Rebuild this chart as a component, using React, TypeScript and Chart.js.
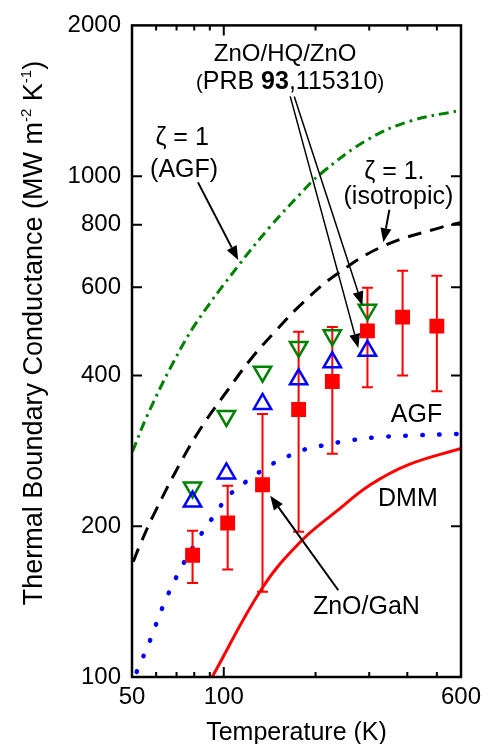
import React, { useEffect, useRef } from 'react';
import { Chart, registerables } from 'chart.js';

Chart.register(...registerables);

const FONT = '"Liberation Sans", Arial, Helvetica, sans-serif';

// ---------- data ----------
// ZnO/GaN measurements (red squares with error bars)
const ganTemps = [79, 103, 134, 176, 227, 296, 386, 500];
const ganValues = [175, 203, 242, 342, 389, 491, 523, 502];
const ganErrHigh = [196, 241, 335, 489, 500, 599, 647, 633];
const ganErrLow = [154, 164, 148, 195, 279, 379, 400, 372];

// ZnO/HQ/ZnO (PRB 93,115310)
const hqTemps = [79, 102, 134, 176, 227, 296];
const hqGreenValues = [239, 332, 407, 456, 481, 541];
const hqBlueValues = [224, 255, 351, 393, 425, 448];

// zeta = 1 (AGF) curve
const zetaAgfT = [50.2, 55.9, 68.2, 81.5, 111.5, 142, 178, 207, 296, 409, 600];
const zetaAgfG = [282, 331, 424, 511, 662, 793, 921, 1009, 1182, 1288, 1354];

// zeta = 1 (isotropic) curve
const isoT = [50.5, 53.1, 58.7, 71.9, 84.7, 102.4, 123.7, 149.4, 182.3, 235.2, 333.7, 525.8, 600];
const isoG = [170, 183.5, 210, 267, 316, 372, 434, 494, 560, 638, 725, 793, 808];

// AGF curve
const agfT = [51.8, 57.3, 62.9, 70.1, 80.5, 94.6, 103.6, 117.5, 133.4, 149.4, 169.4, 189.7, 215.3, 244.2, 310.3, 394.3, 600];
const agfG = [102.4, 118.3, 137.5, 158.8, 184.6, 213.2, 229.9, 244.7, 258.6, 269.4, 278.9, 286.2, 290.5, 295.0, 300.8, 303.1, 306];

// DMM curve
const dmmT = [91.6, 133.6, 178.2, 234, 302.6, 400.4, 600];
const dmmG = [100, 150.4, 186, 214.1, 241.9, 264.9, 286];

// axes
const xMin = 50;
const xMax = 600;
const yMin = 100;
const yMax = 2000;
const xTickValues = [50, 60, 70, 80, 90, 100, 200, 300, 400, 500, 600];
const xLabelValues = [50, 100, 600];
const xMajorInner = [100];
const xMinorInner = [60, 70, 80, 90, 200, 300, 400, 500];
const yTickValues = [100, 200, 400, 600, 800, 1000, 2000];
const yInnerTicks = [200, 400, 600, 800, 1000];

// annotations (data coordinates)
const textLabels = [
  { text: 'ZnO/HQ/ZnO', t: 159, g: 1699 },
  { text: 'ζ = 1', t: 73, g: 1156 },
  { text: '(AGF)', t: 74.1, g: 995 },
  { text: 'ζ = 1.', t: 362.7, g: 986 },
  { text: '(isotropic)', t: 374, g: 881 },
  { text: 'AGF', t: 428.6, g: 323 },
  { text: 'DMM', t: 401.8, g: 220 },
  { text: 'ZnO/GaN', t: 293.6, g: 133.6 },
];
const prbLabel = { t: 165, g: 1496 };
const arrows = [
  { from: [82.3, 972], to: [111.5, 680], w: 2 },
  { from: [349.4, 857], to: [333.8, 738], w: 2 },
  { from: [170.3, 1443], to: [284.8, 552], w: 1.5 },
  { from: [165.2, 1443], to: [276.3, 454], w: 1.5 },
  { from: [237.5, 149], to: [142, 230], w: 2 },
];

const pts = (xs: number[], ys: number[]) => xs.map((x, i) => ({ x, y: ys[i] }));

function drawArrow(ctx: CanvasRenderingContext2D, x1: number, y1: number, x2: number, y2: number, lw: number) {
  const ang = Math.atan2(y2 - y1, x2 - x1);
  const hl = 14;
  const hw = 5.5;
  const bx = x2 - hl * Math.cos(ang);
  const by = y2 - hl * Math.sin(ang);
  ctx.save();
  ctx.strokeStyle = '#000';
  ctx.fillStyle = '#000';
  ctx.lineWidth = lw;
  ctx.setLineDash([]);
  ctx.beginPath();
  ctx.moveTo(x1, y1);
  ctx.lineTo(bx, by);
  ctx.stroke();
  ctx.beginPath();
  ctx.moveTo(x2, y2);
  ctx.lineTo(bx + hw * Math.sin(ang), by - hw * Math.cos(ang));
  ctx.lineTo(bx - hw * Math.sin(ang), by + hw * Math.cos(ang));
  ctx.closePath();
  ctx.fill();
  ctx.restore();
}

const overlayPlugin = {
  id: 'overlay',
  beforeDatasetDraw(chart: any, args: any) {
    if (args.index !== 4) return;
    const { ctx } = chart;
    const xs = chart.scales.x;
    const ys = chart.scales.y;
    ctx.save();
    ctx.strokeStyle = '#ff0000';
    ctx.lineWidth = 2;
    ganTemps.forEach((t, i) => {
      const px = xs.getPixelForValue(t);
      const top = ys.getPixelForValue(ganErrHigh[i]);
      const bot = ys.getPixelForValue(ganErrLow[i]);
      ctx.beginPath();
      ctx.moveTo(px, top);
      ctx.lineTo(px, bot);
      ctx.moveTo(px - 5.5, top);
      ctx.lineTo(px + 5.5, top);
      ctx.moveTo(px - 5.5, bot);
      ctx.lineTo(px + 5.5, bot);
      ctx.stroke();
    });
    ctx.restore();
  },
  afterDatasetsDraw(chart: any) {
    const { ctx, chartArea: a } = chart;
    const xs = chart.scales.x;
    const ys = chart.scales.y;
    ctx.save();
    // frame
    ctx.strokeStyle = '#000';
    ctx.lineWidth = 2.5;
    ctx.setLineDash([]);
    ctx.strokeRect(a.left, a.top, a.right - a.left, a.bottom - a.top);
    ctx.lineWidth = 2;
    ctx.beginPath();
    xMajorInner.forEach((v) => {
      const p = xs.getPixelForValue(v);
      ctx.moveTo(p, a.bottom); ctx.lineTo(p, a.bottom - 10);
      ctx.moveTo(p, a.top); ctx.lineTo(p, a.top + 10);
    });
    xMinorInner.forEach((v) => {
      const p = xs.getPixelForValue(v);
      ctx.moveTo(p, a.bottom); ctx.lineTo(p, a.bottom - 5);
      ctx.moveTo(p, a.top); ctx.lineTo(p, a.top + 5);
    });
    yInnerTicks.forEach((v) => {
      const p = ys.getPixelForValue(v);
      ctx.moveTo(a.left, p); ctx.lineTo(a.left + 10, p);
      ctx.moveTo(a.right, p); ctx.lineTo(a.right - 10, p);
    });
    ctx.stroke();

    // arrows
    arrows.forEach((ar) => {
      drawArrow(
        ctx,
        xs.getPixelForValue(ar.from[0]), ys.getPixelForValue(ar.from[1]),
        xs.getPixelForValue(ar.to[0]), ys.getPixelForValue(ar.to[1]),
        ar.w,
      );
    });

    // labels
    ctx.fillStyle = '#000';
    ctx.textBaseline = 'alphabetic';
    ctx.textAlign = 'center';
    textLabels.forEach((l) => {
      ctx.font = `${l.text === 'ZnO/HQ/ZnO' ? 24 : 25}px ${FONT}`;
      ctx.fillText(l.text, xs.getPixelForValue(l.t), ys.getPixelForValue(l.g));
    });

    // (PRB 93,115310) with bold volume
    const parts = [
      { s: '(', f: `20px ${FONT}` },
      { s: 'PRB ', f: `25px ${FONT}` },
      { s: '93', f: `bold 25px ${FONT}` },
      { s: ',115310', f: `25px ${FONT}` },
      { s: ')', f: `20px ${FONT}` },
    ];
    let total = 0;
    const widths = parts.map((p) => {
      ctx.font = p.f;
      const w = ctx.measureText(p.s).width;
      total += w;
      return w;
    });
    let x = xs.getPixelForValue(prbLabel.t) - total / 2;
    const yb = ys.getPixelForValue(prbLabel.g);
    ctx.textAlign = 'left';
    parts.forEach((p, i) => {
      ctx.font = p.f;
      ctx.fillText(p.s, x, yb);
      x += widths[i];
    });
    ctx.restore();
  },
  afterDraw(chart: any) {
    const { ctx, chartArea: a } = chart;
    ctx.save();
    ctx.fillStyle = '#000';
    ctx.textBaseline = 'alphabetic';
    // x title
    ctx.textAlign = 'center';
    ctx.font = `25px ${FONT}`;
    ctx.fillText('Temperature (K)', (a.left + a.right) / 2, 740);
    // y title with superscripts
    const parts = [
      { s: 'Thermal Boundary Conductance (MW m', sup: false },
      { s: '-2', sup: true },
      { s: ' K', sup: false },
      { s: '-1', sup: true },
      { s: ')', sup: false },
    ];
    const fMain = `27px ${FONT}`;
    const fSup = `15px ${FONT}`;
    let total = 0;
    const widths = parts.map((p) => {
      ctx.font = p.sup ? fSup : fMain;
      const w = ctx.measureText(p.s).width;
      total += w;
      return w;
    });
    ctx.translate(42, 333);
    ctx.rotate(-Math.PI / 2);
    ctx.textAlign = 'left';
    let x = -total / 2;
    parts.forEach((p, i) => {
      ctx.font = p.sup ? fSup : fMain;
      ctx.fillText(p.s, x, p.sup ? -11 : 0);
      x += widths[i];
    });
    ctx.restore();
  },
};

export default function App() {
  const canvasRef = useRef<HTMLCanvasElement | null>(null);

  useEffect(() => {
    if (!canvasRef.current) return;
    const chart = new Chart(canvasRef.current, {
      type: 'scatter',
      data: {
        datasets: [
          {
            label: 'ζ = 1 (AGF)',
            data: pts(zetaAgfT, zetaAgfG),
            showLine: true,
            borderColor: '#008000',
            borderWidth: 3,
            borderDash: [10, 5, 2.5, 5],
            pointRadius: 0,
            tension: 0.4,
            order: 10,
          },
          {
            label: 'ζ = 1 (isotropic)',
            data: pts(isoT, isoG),
            showLine: true,
            borderColor: '#000000',
            borderWidth: 3,
            borderDash: [14, 9],
            pointRadius: 0,
            tension: 0.4,
            order: 9,
          },
          {
            label: 'AGF',
            data: pts(agfT, agfG),
            showLine: true,
            borderColor: '#0000ff',
            borderWidth: 4.5,
            borderDash: [0.5, 16.5],
            borderCapStyle: 'round',
            pointRadius: 0,
            tension: 0.4,
            order: 8,
          },
          {
            label: 'DMM',
            data: pts(dmmT, dmmG),
            showLine: true,
            borderColor: '#ff0000',
            borderWidth: 3,
            pointRadius: 0,
            tension: 0.4,
            order: 7,
          },
          {
            label: 'ZnO/GaN',
            data: pts(ganTemps, ganValues),
            showLine: false,
            pointStyle: 'rect',
            pointRadius: 10.5,
            backgroundColor: '#ff0000',
            borderColor: '#ff0000',
            borderWidth: 0,
            order: 3,
          },
          {
            label: 'ZnO/HQ/ZnO (1)',
            data: pts(hqTemps, hqGreenValues),
            showLine: false,
            pointStyle: 'triangle',
            rotation: 180,
            pointRadius: 10,
            backgroundColor: 'rgba(0,0,0,0)',
            borderColor: '#008000',
            borderWidth: 2.5,
            order: 2,
          },
          {
            label: 'ZnO/HQ/ZnO (2)',
            data: pts(hqTemps, hqBlueValues),
            showLine: false,
            pointStyle: 'triangle',
            pointRadius: 10,
            backgroundColor: 'rgba(0,0,0,0)',
            borderColor: '#0000ff',
            borderWidth: 2.5,
            order: 1,
          },
        ] as any,
      },
      options: {
        animation: false,
        responsive: false,
        maintainAspectRatio: false,
        devicePixelRatio: 1,
        layout: { padding: { top: 16, right: 28, bottom: 0, left: 0 } },
        plugins: {
          legend: { display: false },
          tooltip: { enabled: false },
        },
        scales: {
          x: {
            type: 'logarithmic',
            min: xMin,
            max: xMax,
            grid: { display: false, drawTicks: false },
            border: { display: false },
            afterBuildTicks: (axis: any) => {
              axis.ticks = xTickValues.map((v) => ({ value: v }));
            },
            afterFit: (axis: any) => {
              axis.height = 67;
            },
            ticks: {
              autoSkip: false,
              maxRotation: 0,
              padding: 6,
              color: '#000',
              font: { family: FONT, size: 24 },
              callback: (v: any) => (xLabelValues.includes(Number(v)) ? String(v) : ''),
            },
          },
          y: {
            type: 'logarithmic',
            min: yMin,
            max: yMax,
            grid: { display: false, drawTicks: false },
            border: { display: false },
            afterBuildTicks: (axis: any) => {
              axis.ticks = yTickValues.map((v) => ({ value: v }));
            },
            afterFit: (axis: any) => {
              axis.width = 132;
            },
            ticks: {
              autoSkip: false,
              padding: 11,
              color: '#000',
              font: { family: FONT, size: 24 },
              callback: (v: any) => String(v),
            },
          },
        },
      } as any,
      plugins: [overlayPlugin],
    });
    return () => chart.destroy();
  }, []);

  return (
    <div style={{ position: 'absolute', left: 0, top: 0, width: 489, height: 744, background: '#fff' }}>
      <canvas ref={canvasRef} width={489} height={744} />
    </div>
  );
}
